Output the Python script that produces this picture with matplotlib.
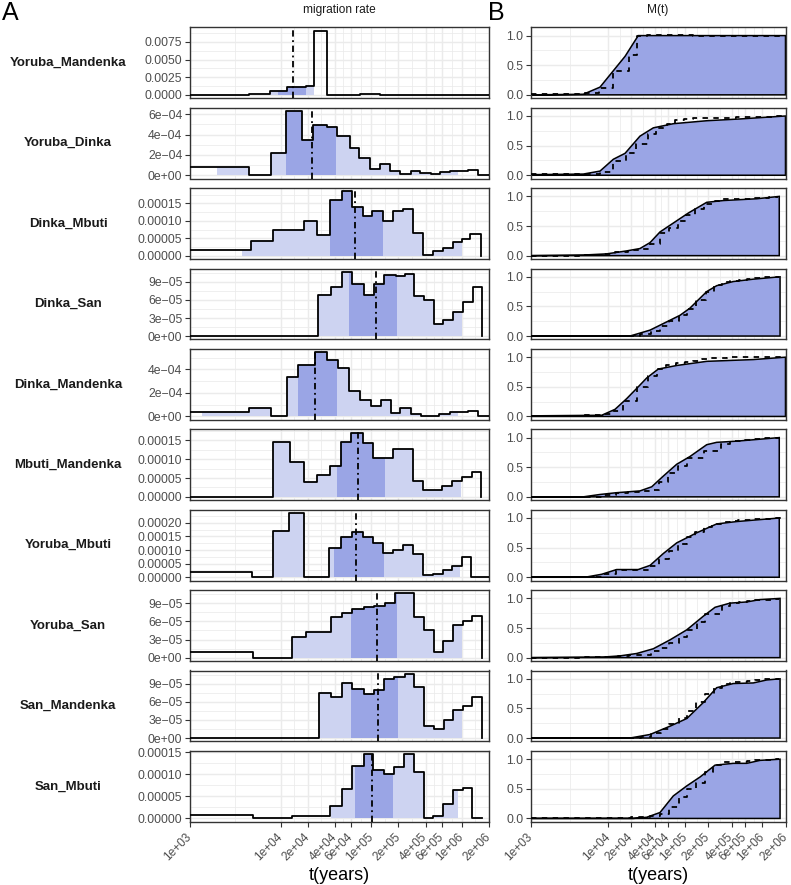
import numpy as np
import matplotlib
matplotlib.use("Agg")
import matplotlib.pyplot as plt
from matplotlib.ticker import NullFormatter

plt.rcParams['font.family'] = ['Liberation Sans', 'DejaVu Sans']

# ---------------- data ----------------
pairs = ["Yoruba_Mandenka", "Yoruba_Dinka", "Dinka_Mbuti", "Dinka_San", "Dinka_Mandenka",
         "Mbuti_Mandenka", "Yoruba_Mbuti", "Yoruba_San", "San_Mandenka", "San_Mbuti"]

x_breaks = [1e3, 1e4, 2e4, 4e4, 6e4, 1e5, 2e5, 4e5, 6e5, 1e6, 2e6]
x_labels = ["1e+03", "1e+04", "2e+04", "4e+04", "6e+04", "1e+05", "2e+05", "4e+05", "6e+05", "1e+06", "2e+06"]

# --- Yoruba_Mandenka
ym_edges = [1e3, 4.51e3, 7.64e3, 9.36e3, 1.17e4, 1.89e4, 2.35e4, 3.23e4, 7.52e4, 1.25e5, 2e6]
ym_rate = [0, 0.00018, 0.00055, 0.0006, 0.00118, 0.0012, 0.0091, 0, 0.00015, 0]
ym_ci95 = [7.64e3, 2.35e4]
ym_ci50 = [9.36e3, 1.89e4]
ym_median = 1.36e4
ym_Mt = [1e3, 4.77e3, 7.85e3, 1.66e4, 2.46e4, 2e6]
ym_M = [0.0, 0.01, 0.13, 0.65, 1.0, 1.0]
ym_Mstep = [0.02, 0.03, 0.12, 0.12, 0.40, 0.68, 1.0, 1.01, 1.01, 1.0]

# --- Yoruba_Dinka
yd_edges = [1e3, 4.51e3, 7.78e3, 1.15e4, 1.71e4, 2.28e4, 3.28e4, 4.16e4, 5.83e4, 7.39e4, 9.70e4,
            1.25e5, 1.61e5, 2.08e5, 2.73e5, 3.46e5, 4.54e5, 5.75e5, 7.41e5, 1.16e6, 1.50e6, 2e6]
yd_rate = [0.78e-4, 0, 2.18e-4, 6.32e-4, 3.47e-4, 4.9e-4, 4.7e-4, 3.89e-4, 2.66e-4, 1.69e-4, 0.62e-4,
           1.14e-4, 0.39e-4, 0.13e-4, 0.46e-4, 0.23e-4, 0.16e-4, 0.29e-4, 0.39e-4, 0.52e-4, 0]
yd_ci95 = [1.97e3, 9.15e5]
yd_ci50 = [1.15e4, 4.06e4]
yd_median = 2.22e4
yd_Mt = [1e3, 4.77e3, 7.85e3, 1.17e4, 1.66e4, 2.59e4, 3.86e4, 7.01e4, 1.90e5, 5.14e5, 2e6]
yd_M = [0.01, 0.02, 0.07, 0.27, 0.37, 0.66, 0.80, 0.87, 0.92, 0.95, 1.0]
yd_Mstep = [0.02, 0.02, 0.05, 0.24, 0.38, 0.53, 0.70, 0.80, 0.86, 0.94, 0.95, 0.96, 0.96, 0.97,
            0.97, 0.97, 0.98, 0.98, 0.99, 0.99, 1.0]

# --- Dinka_Mbuti
dm_edges = [1e3, 4.68e3, 8.18e3, 1.22e4, 1.81e4, 2.50e4, 3.51e4, 4.73e4, 6.09e4, 8.06e4, 1.03e5,
            1.36e5, 1.75e5, 2.26e5, 2.92e5, 3.76e5, 4.85e5, 6.25e5, 8.06e5, 9.97e5, 1.23e6, 1.62e6]
dm_rate = [1.6e-5, 4.2e-5, 7.3e-5, 7.5e-5, 10.1e-5, 5.9e-5, 15.9e-5, 18.5e-5, 13.9e-5, 11.3e-5, 12.7e-5,
           10.0e-5, 12.7e-5, 13.4e-5, 6.6e-5, 0.2e-5, 1.4e-5, 2.3e-5, 3.9e-5, 4.9e-5, 6.1e-5]
dm_ci95 = [3.72e3, 9.97e5]
dm_ci50 = [3.51e4, 1.36e5]
dm_median = 6.62e4
dm_Mt = [1e3, 4.77e3, 9.59e3, 1.74e4, 2.59e4, 3.50e4, 4.71e4, 7.01e4, 1.10e5, 1.90e5, 3.12e5, 8.46e5, 1.66e6]
dm_M = [0.0, 0.01, 0.03, 0.08, 0.12, 0.22, 0.40, 0.55, 0.72, 0.90, 0.93, 0.96, 1.0]
dm_Mstep = [0.0, 0.01, 0.03, 0.06, 0.10, 0.12, 0.20, 0.38, 0.47, 0.58, 0.68, 0.78, 0.87, 0.92,
            0.95, 0.95, 0.95, 0.96, 0.97, 0.98, 0.99]

# --- Dinka_San
ds_edges = [1e3, 2.61e4, 3.57e4, 4.73e4, 6.09e4, 8.33e4, 1.07e5, 1.38e5, 1.86e5, 2.36e5, 2.99e5,
            3.86e5, 4.93e5, 6.25e5, 8.06e5, 1.02e6, 1.32e6, 1.66e6]
ds_rate = [0, 6.84e-5, 8.1e-5, 10.7e-5, 8.66e-5, 6.84e-5, 8.6e-5, 10.15e-5, 10.0e-5, 10.4e-5, 6.7e-5,
           5.96e-5, 2.04e-5, 2.65e-5, 3.97e-5, 5.6e-5, 8.1e-5]
ds_ci95 = [2.61e4, 9.97e5]
ds_ci50 = [5.69e4, 1.94e5]
ds_median = 1.13e5
ds_Mt = [1e3, 1.92e4, 3.50e4, 8.56e4, 1.15e5, 1.90e5, 2.56e5, 4.21e5, 7.64e5, 1.70e6]
ds_M = [0.0, 0.0, 0.1, 0.35, 0.47, 0.75, 0.85, 0.92, 0.96, 1.0]
ds_Mstep = [0.0, 0.04, 0.08, 0.17, 0.25, 0.35, 0.46, 0.60, 0.74, 0.86, 0.91, 0.93, 0.95, 0.97, 0.98, 0.99, 1.0]

# --- Dinka_Mandenka
dmd_edges = [1e3, 4.48e3, 7.78e3, 1.17e4, 1.57e4, 2.40e4, 3.28e4, 4.34e4, 5.69e4, 7.52e4, 9.87e4,
             1.27e5, 1.64e5, 2.08e5, 2.73e5, 3.52e5, 5.65e5, 7.41e5, 9.15e5, 1.18e6, 1.52e6, 2e6]
dmd_rate = [0.34e-4, 0.68e-4, 0, 3.35e-4, 4.34e-4, 5.46e-4, 4.76e-4, 4.11e-4, 2.14e-4, 1.44e-4, 0.87e-4,
            1.38e-4, 0.31e-4, 0.73e-4, 0.25e-4, 0.08e-4, 0.2e-4, 0.34e-4, 0.39e-4, 0.5e-4, 0]
dmd_ci95 = [1.35e3, 9.15e5]
dmd_ci50 = [1.57e4, 4.23e4]
dmd_median = 2.40e4
dmd_Mt = [1e3, 8.26e3, 1.23e4, 1.74e4, 2.46e4, 3.17e4, 4.48e4, 7.76e4, 1.90e5, 7.64e5, 2e6]
dmd_M = [0.01, 0.02, 0.12, 0.30, 0.50, 0.65, 0.80, 0.86, 0.93, 0.96, 1.0]
dmd_Mstep = [0.01, 0.02, 0.04, 0.10, 0.26, 0.49, 0.69, 0.80, 0.87, 0.90, 0.92, 0.94, 0.97, 0.99,
             0.99, 1.0, 1.0, 1.0, 1.0, 1.0, 1.0]

# --- Mbuti_Mandenka
mm_edges = [1e3, 8.31e3, 1.27e4, 1.83e4, 2.54e4, 3.51e4, 4.64e4, 5.98e4, 8.06e4, 1.05e5, 1.75e5,
            2.92e5, 3.76e5, 6.00e5, 7.74e5, 9.97e5, 1.29e6, 1.63e6]
mm_rate = [0, 1.47e-4, 0.92e-4, 0.39e-4, 0.58e-4, 0.82e-4, 1.45e-4, 1.71e-4, 1.43e-4, 1.04e-4, 1.28e-4,
           0.42e-4, 0.18e-4, 0.29e-4, 0.42e-4, 0.53e-4, 0.66e-4]
mm_ci95 = [8.31e3, 9.80e5]
mm_ci50 = [4.23e4, 1.42e5]
mm_median = 7.10e4
mm_Mt = [1e3, 4.77e3, 7.85e3, 1.29e4, 2.59e4, 3.68e4, 5.20e4, 7.76e4, 1.15e5, 1.90e5, 2.56e5, 4.66e5, 1.66e6]
mm_M = [0.0, 0.0, 0.04, 0.07, 0.10, 0.17, 0.35, 0.55, 0.68, 0.88, 0.92, 0.94, 1.0]
mm_Mstep = [0.0, 0.03, 0.06, 0.08, 0.10, 0.12, 0.25, 0.40, 0.52, 0.66, 0.77, 0.90, 0.94, 0.96, 0.98, 0.99, 1.0]

# --- Yoruba_Mbuti
ymb_edges = [1e3, 4.80e3, 8.31e3, 1.25e4, 1.83e4, 3.45e4, 4.61e4, 6.09e4, 8.06e4, 1.05e5, 1.36e5,
             1.75e5, 2.26e5, 2.92e5, 3.76e5, 4.77e5, 6.16e5, 7.74e5, 9.97e5, 1.26e6, 2e6]
ymb_rate = [0.21e-4, 0, 1.70e-4, 2.36e-4, 0, 1.07e-4, 1.49e-4, 1.67e-4, 1.48e-4, 1.27e-4, 0.88e-4,
            1.0e-4, 1.19e-4, 0.85e-4, 0.08e-4, 0.12e-4, 0.27e-4, 0.40e-4, 0.73e-4, 0]
ymb_ci95 = [8.31e3, 9.55e5]
ymb_ci50 = [3.91e4, 1.38e5]
ymb_median = 6.80e4
ymb_Mt = [1e3, 5.02e3, 8.26e3, 1.29e4, 2.46e4, 3.50e4, 5.20e4, 7.76e4, 1.41e5, 2.56e5, 4.66e5, 1.66e6]
ymb_M = [0.0, 0.0, 0.05, 0.13, 0.13, 0.20, 0.40, 0.58, 0.75, 0.90, 0.94, 1.0]
ymb_Mstep = [0.0, 0.01, 0.05, 0.12, 0.12, 0.19, 0.31, 0.44, 0.56, 0.68, 0.76, 0.84, 0.90, 0.93,
             0.95, 0.96, 0.97, 0.98, 0.99, 1.0]

# --- Yoruba_San
ys_edges = [1e3, 5.00e3, 1.33e4, 1.89e4, 3.57e4, 4.73e4, 6.09e4, 8.33e4, 1.07e5, 1.42e5, 1.83e5,
            2.97e5, 3.83e5, 4.93e5, 6.25e5, 8.06e5, 1.04e6, 1.31e6, 1.66e6]
ys_rate = [0.93e-5, 0, 3.49e-5, 4.31e-5, 6.65e-5, 7.36e-5, 8.13e-5, 8.3e-5, 8.5e-5, 9.0e-5, 10.64e-5,
           6.65e-5, 4.64e-5, 0.93e-5, 2.84e-5, 5.4e-5, 6.0e-5, 6.93e-5]
ys_ci95 = [1.33e4, 9.97e5]
ys_ci50 = [5.98e4, 1.94e5]
ys_median = 1.16e5
ys_Mt = [1e3, 8.66e3, 1.43e4, 2.35e4, 3.86e4, 6.35e4, 1.05e5, 1.72e5, 2.44e5, 3.81e5, 6.28e5, 9.34e5, 1.70e6]
ys_M = [0.0, 0.01, 0.03, 0.07, 0.15, 0.30, 0.47, 0.70, 0.85, 0.92, 0.94, 0.98, 1.0]
ys_Mstep = [0.0, 0.01, 0.03, 0.05, 0.12, 0.16, 0.25, 0.34, 0.47, 0.60, 0.73, 0.88, 0.93, 0.94,
            0.95, 0.97, 0.98, 0.99]

# --- San_Mandenka
sm_edges = [1e3, 2.65e4, 3.57e4, 4.80e4, 6.09e4, 8.33e4, 1.07e5, 1.38e5, 1.80e5, 2.36e5, 2.99e5,
            3.83e5, 4.93e5, 6.36e5, 8.06e5, 1.04e6, 1.31e6, 1.66e6]
sm_rate = [0, 7.47e-5, 6.82e-5, 9.1e-5, 8.13e-5, 7.3e-5, 7.9e-5, 9.8e-5, 10.1e-5, 10.64e-5, 8.45e-5,
           2.0e-5, 1.58e-5, 3.0e-5, 4.58e-5, 5.29e-5, 6.82e-5]
sm_ci95 = [2.65e4, 1.01e6]
sm_ci50 = [5.98e4, 1.96e5]
sm_median = 1.18e5
sm_Mt = [1e3, 1.92e4, 3.50e4, 6.35e4, 1.05e5, 1.72e5, 2.56e5, 4.21e5, 7.64e5, 1.14e6, 1.70e6]
sm_M = [0.0, 0.0, 0.06, 0.20, 0.33, 0.60, 0.85, 0.92, 0.93, 0.98, 1.0]
sm_Mstep = [0.0, 0.02, 0.08, 0.16, 0.23, 0.33, 0.45, 0.60, 0.75, 0.85, 0.92, 0.94, 0.95, 0.96, 0.98, 0.99, 1.0]

# --- San_Mbuti
smb_edges = [1e3, 5.00e3, 9.85e3, 1.33e4, 1.97e4, 2.65e4, 3.51e4, 4.73e4, 6.09e4, 8.33e4, 1.04e5,
             1.40e5, 1.79e5, 2.32e5, 2.99e5, 3.83e5, 4.85e5, 6.25e5, 8.06e5, 1.02e6, 1.31e6, 1.66e6]
smb_rate = [0.82e-5, 0, 0.2e-5, 0.45e-5, 0.6e-5, 0.45e-5, 2.85e-5, 6.75e-5, 11.8e-5, 14.6e-5, 11.0e-5,
            10.2e-5, 11.6e-5, 14.6e-5, 10.5e-5, 0, 0.45e-5, 3.22e-5, 6.37e-5, 6.82e-5, 0]
smb_ci95 = [3.57e4, 9.01e5]
smb_ci50 = [6.62e4, 1.75e5]
smb_median = 1.01e5
smb_Mt = [1e3, 2.12e4, 3.17e4, 4.71e4, 7.01e4, 1.05e5, 1.56e5, 2.44e5, 4.21e5, 6.28e5, 9.34e5, 1.70e6]
smb_M = [0.0, 0.0, 0.02, 0.10, 0.38, 0.55, 0.70, 0.90, 0.93, 0.93, 0.98, 1.0]
smb_Mstep = [0.0, 0.0, 0.01, 0.01, 0.02, 0.02, 0.04, 0.08, 0.20, 0.36, 0.50, 0.60, 0.78, 0.90,
             0.95, 0.96, 0.96, 0.97, 0.98, 0.99, 1.0]

# y-axis tick values / labels of the left column
yt_sci_a = [0, 2e-4, 4e-4, 6e-4]
yt_sci_b = [0, 3e-5, 6e-5, 9e-5]
yt_dec = [0, 5e-5, 1e-4, 1.5e-4]
ytick_sets = [
    ([0, 0.0025, 0.005, 0.0075], ["0.0000", "0.0025", "0.0050", "0.0075"]),
    (yt_sci_a, ["0e+00", "2e\u221204", "4e\u221204", "6e\u221204"]),
    (yt_dec, ["0.00000", "0.00005", "0.00010", "0.00015"]),
    (yt_sci_b, ["0e+00", "3e\u221205", "6e\u221205", "9e\u221205"]),
    ([0, 2e-4, 4e-4], ["0e+00", "2e\u221204", "4e\u221204"]),
    (yt_dec, ["0.00000", "0.00005", "0.00010", "0.00015"]),
    ([0, 5e-5, 1e-4, 1.5e-4, 2e-4], ["0.00000", "0.00005", "0.00010", "0.00015", "0.00020"]),
    (yt_sci_b, ["0e+00", "3e\u221205", "6e\u221205", "9e\u221205"]),
    (yt_sci_b, ["0e+00", "3e\u221205", "6e\u221205", "9e\u221205"]),
    (yt_dec, ["0.00000", "0.00005", "0.00010", "0.00015"]),
]

series = [
    (ym_edges, ym_rate, ym_ci95, ym_ci50, ym_median, ym_Mt, ym_M, ym_Mstep),
    (yd_edges, yd_rate, yd_ci95, yd_ci50, yd_median, yd_Mt, yd_M, yd_Mstep),
    (dm_edges, dm_rate, dm_ci95, dm_ci50, dm_median, dm_Mt, dm_M, dm_Mstep),
    (ds_edges, ds_rate, ds_ci95, ds_ci50, ds_median, ds_Mt, ds_M, ds_Mstep),
    (dmd_edges, dmd_rate, dmd_ci95, dmd_ci50, dmd_median, dmd_Mt, dmd_M, dmd_Mstep),
    (mm_edges, mm_rate, mm_ci95, mm_ci50, mm_median, mm_Mt, mm_M, mm_Mstep),
    (ymb_edges, ymb_rate, ymb_ci95, ymb_ci50, ymb_median, ymb_Mt, ymb_M, ymb_Mstep),
    (ys_edges, ys_rate, ys_ci95, ys_ci50, ys_median, ys_Mt, ys_M, ys_Mstep),
    (sm_edges, sm_rate, sm_ci95, sm_ci50, sm_median, sm_Mt, sm_M, sm_Mstep),
    (smb_edges, smb_rate, smb_ci95, smb_ci50, smb_median, smb_Mt, smb_M, smb_Mstep),
]

# ---------------- style ----------------
DARK = "#9AA5E5"
LIGHT = "#CDD3F1"
GRID = "#EBEBEB"
BORDER = "#333333"
TICKTXT = "#4D4D4D"

W, H = 791, 885
fig = plt.figure(figsize=(W / 100, H / 100), dpi=100)

LX0, LX1 = 190, 489
RX0, RX1 = 531, 785.5
TOP0, PITCH, PH = 27.3, 80.4, 70.8


def rect(x0, x1, top):
    return [x0 / W, 1 - (top + PH) / H, (x1 - x0) / W, PH / H]


x_minor = [np.sqrt(a * b) for a, b in zip(x_breaks[:-1], x_breaks[1:])]


def style_axes(ax, yticks, ylabels, ylim, bottom):
    ax.set_xscale("log")
    ax.set_xlim(1e3, 2e6)
    ax.set_ylim(*ylim)
    ax.set_axisbelow(True)
    ax.set_xticks(x_breaks)
    ax.set_xticks(x_minor, minor=True)
    ax.xaxis.set_minor_formatter(NullFormatter())
    if bottom:
        ax.set_xticklabels(x_labels, rotation=45, ha="right", va="center",
                           rotation_mode="anchor")
        ax.tick_params(axis="x", which="major", length=3.5, width=0.8, color=BORDER,
                       labelcolor=TICKTXT, labelsize=8.6, pad=6)
    else:
        ax.set_xticklabels([])
        ax.tick_params(axis="x", which="major", length=0)
    step = yticks[1] - yticks[0]
    ymin_all = [yticks[0] - step / 2] + [y + step / 2 for y in yticks]
    ymin_all = [y for y in ymin_all if ylim[0] <= y <= ylim[1]]
    ax.set_yticks(yticks)
    ax.set_yticklabels(ylabels)
    ax.set_yticks(ymin_all, minor=True)
    ax.tick_params(axis="y", which="major", length=3.5, width=0.8, color=BORDER,
                   labelcolor=TICKTXT, labelsize=8.8, pad=2)
    ax.tick_params(which="minor", length=0)
    ax.grid(which="major", color=GRID, lw=1.05)
    ax.grid(which="minor", color=GRID, lw=0.55)
    for s in ax.spines.values():
        s.set_color(BORDER)
        s.set_linewidth(1.0)


def fill_range(ax, edges, vals, lo, hi, color):
    e = np.asarray(edges, float)
    v = np.asarray(vals, float)
    inner = e[(e > lo) & (e < hi)]
    xs = np.concatenate([[lo], inner, [hi]])
    idx = np.clip(np.searchsorted(e, xs, side="right") - 1, 0, len(v) - 1)
    ax.fill_between(xs, 0, v[idx], step="post", color=color, lw=0, zorder=1)


n = len(pairs)
for i, (name, ser, (yt, yl)) in enumerate(zip(pairs, series, ytick_sets)):
    edges, rate, ci95, ci50, med, Mt, M, Mstep = ser
    top = TOP0 + PITCH * i
    bottom = (i == n - 1)

    # left: migration rate
    axl = fig.add_axes(rect(LX0, LX1, top))
    ymax = max(rate)
    style_axes(axl, yt, yl, (-0.05 * ymax, 1.05 * ymax), bottom)
    fill_range(axl, edges, rate, ci95[0], ci95[1], LIGHT)
    fill_range(axl, edges, rate, ci50[0], ci50[1], DARK)
    axl.step(edges, list(rate) + [0], where="post", color="black", lw=1.3, zorder=3)
    axl.axvline(med, color="black", lw=1.3, ls=(0, (3.5, 2.0, 1.0, 2.0)), zorder=4)

    # right: M(t)
    axr = fig.add_axes(rect(RX0, RX1, top))
    style_axes(axr, [0, 0.5, 1.0], ["0.0", "0.5", "1.0"], (-0.055, 1.14), bottom)
    px = list(Mt) + [Mt[-1], Mt[0]]
    py = list(M) + [0, 0]
    axr.fill(px, py, facecolor=DARK, edgecolor="black", lw=1.1, zorder=2)
    axr.step(edges, list(Mstep) + [Mstep[-1]], where="post", color="black", lw=1.3,
             ls=(0, (3.0, 3.0)), zorder=3)

    # pair label
    fig.text(68 / W, 1 - (top + PH / 2) / H, name, ha="center", va="center",
             fontsize=9.5, fontweight="bold", color="#1A1A1A")

# titles / labels
fig.text(339.5 / W, 1 - 10 / H, "migration rate", ha="center", va="center", fontsize=8.6, color="#1A1A1A")
fig.text(658 / W, 1 - 10 / H, "M(t)", ha="center", va="center", fontsize=8.6, color="#1A1A1A")
fig.text(2 / W, 1 - 1 / H, "A", ha="left", va="top", fontsize=18)
fig.text(488 / W, 1 - 1 / H, "B", ha="left", va="top", fontsize=18)
fig.text(339.5 / W, 1 - 875 / H, "t(years)", ha="center", va="center", fontsize=13)
fig.text(658 / W, 1 - 875 / H, "t(years)", ha="center", va="center", fontsize=13)

fig.savefig("out.png", dpi=100)
